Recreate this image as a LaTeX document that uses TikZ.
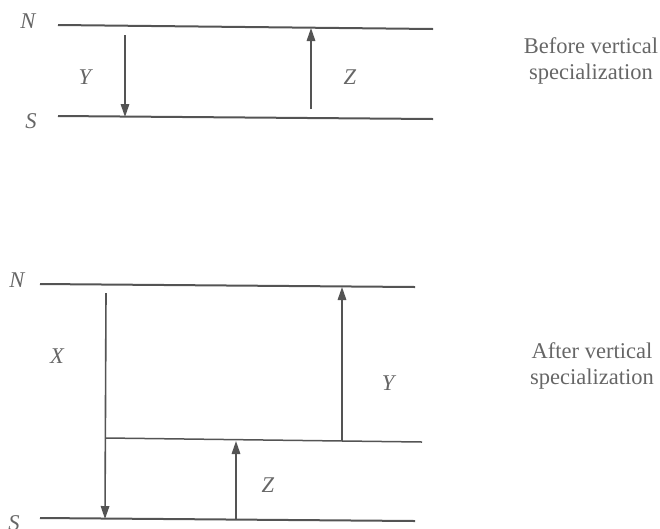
\documentclass[tikz,border=0pt]{standalone}
\usepackage{fontspec}
\setmainfont{Liberation Serif}
\usetikzlibrary{arrows.meta}
\definecolor{ln}{rgb}{0.33,0.33,0.33}
\definecolor{tx}{rgb}{0.40,0.40,0.40}
\begin{document}
\begin{tikzpicture}[x=1pt,y=-1pt,
  level/.style={draw=ln,line width=2pt},
  midlevel/.style={draw=ln,line width=1.5pt},
  flow/.style={draw=ln,line width=1.6pt,-{Triangle[length=13pt,width=8.5pt]}},
  lab/.style={text=tx,font=\fontsize{22.5}{27}\selectfont\itshape,inner sep=0pt},
  captext/.style={text=tx,font=\fontsize{22.5}{26}\selectfont,align=center,inner sep=0pt}]
\useasboundingbox (0,0) rectangle (660,528);
% ---- top panel ----
\coordinate (tNl) at (58,25); \coordinate (tNr) at (433,29);
\coordinate (tSl) at (58,116); \coordinate (tSr) at (433,119);
\draw[level] (tNl) -- (tNr);
\draw[level] (tSl) -- (tSr);
\node[lab] (tN) at (28,21) {N};
\node[lab] (tS) at (31,121) {S};
\coordinate (tYa) at (125,35); \coordinate (tYb) at (125,117);
\coordinate (tZa) at (311,109); \coordinate (tZb) at (311,28);
\draw[flow] (tYa) -- (tYb);
\draw[flow] (tZa) -- (tZb);
\node[lab] (tY) at (85,77) {Y};
\node[lab] (tZ) at (350,77) {Z};
\node[captext] (tcap) at (591,61) {Before vertical\\specialization};
% ---- bottom panel ----
\coordinate (bNl) at (40,284); \coordinate (bNr) at (415,287);
\coordinate (bMl) at (106,438); \coordinate (bMr) at (422,442);
\coordinate (bSl) at (40,518); \coordinate (bSr) at (415,521);
\draw[level] (bNl) -- (bNr);
\draw[midlevel] (bMl) -- (bMr);
\draw[level] (bSl) -- (bSr);
\node[lab] (bN) at (17,280) {N};
\node[lab] (bS) at (14,523) {S};
\coordinate (bXa) at (106,293); \coordinate (bXb) at (105,519);
\coordinate (bYa) at (342,441); \coordinate (bYb) at (342,287);
\coordinate (bZa) at (236,519); \coordinate (bZb) at (236,441);
\draw[flow] (bXa) -- (bXb);
\draw[flow] (bYa) -- (bYb);
\draw[flow] (bZa) -- (bZb);
\node[lab] (bX) at (57,356) {X};
\node[lab] (bY) at (388,383) {Y};
\node[lab] (bZ) at (268,485) {Z};
\node[captext] (bcap) at (592,366) {After vertical\\specialization};
\end{tikzpicture}
\end{document}
